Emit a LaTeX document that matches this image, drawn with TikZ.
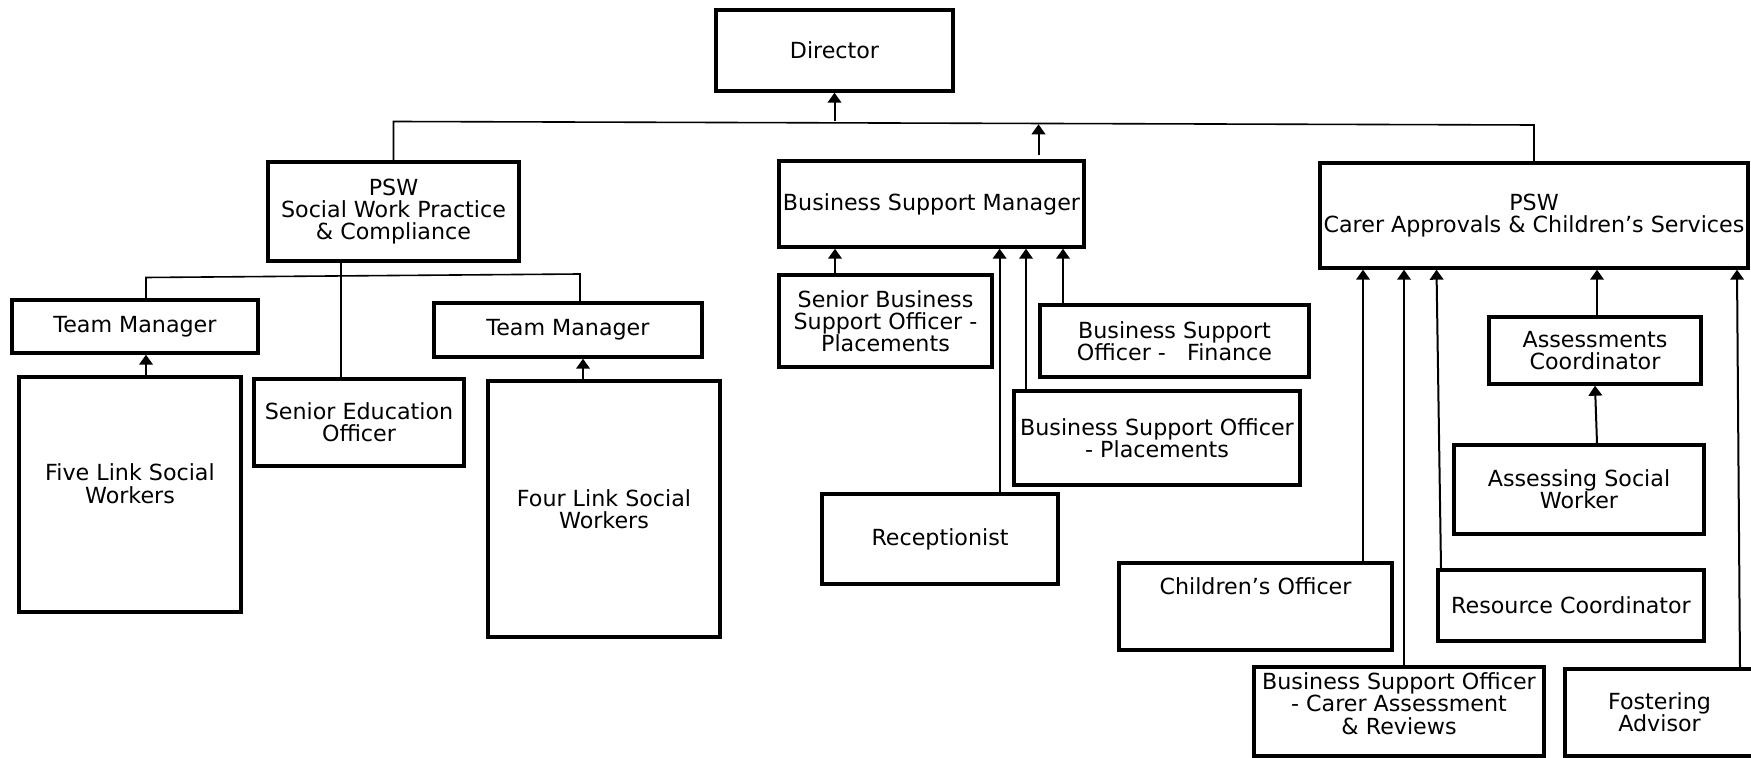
\documentclass[tikz,border=0pt]{standalone}
\usepackage{fontspec}
\setmainfont{DejaVu Sans}
\usetikzlibrary{arrows.meta}

\begin{document}
\begin{tikzpicture}[x=0.5pt, y=-0.5pt,
    post/.style={draw, line width=1.7pt, align=center, inner xsep=0pt, inner ysep=1pt,
        font=\fontsize{11.1pt}{11.1pt}\selectfont},
    link/.style={line width=0.8pt},
    uparr/.style={line width=1pt, -{Triangle[width=6.8pt,length=5pt]}}]
    \useasboundingbox (0,0) rectangle (1751,758);

    \node[post, minimum width=118.5pt, minimum height=40.5pt] (dir) at (834.5,50.5) {Director};

    \node[post, minimum width=125.5pt, minimum height=49.5pt] (pswa) at (393.5,211.5) {PSW\\Social Work Practice\\\& Compliance};
    \node[post, minimum width=152.5pt, minimum height=43pt] (bsm) at (931.5,204) {Business Support Manager};
    \node[post, minimum width=214pt, minimum height=52.5pt] (pswb) at (1534,215.5) {PSW\\Carer Approvals \& Children’s Services};

    \coordinate (busa) at (393.5,121.5);
    \coordinate (busb) at (1534,125);
    \draw[link] (pswa.north) -- (busa) -- (busb) -- (pswb.north);
    \draw[uparr] (dir.south |- busa) -- (dir.south);
    \draw[uparr] ([xshift=53.5pt,yshift=2pt]bsm.north) -- ([xshift=53.5pt,yshift=17.5pt]bsm.north);

    % left branch
    \node[post, minimum width=123pt, minimum height=26.5pt] (tma) at (135,326.5) {Team Manager};
    \node[post, minimum width=134pt, minimum height=27pt] (tmb) at (568,330) {Team Manager};
    \node[post, minimum width=111pt, minimum height=117.5pt, text depth=11pt] (five) at (130,494.5) {Five Link Social\\Workers};
    \node[post, minimum width=105pt, minimum height=43.5pt] (seo) at (359,422.5) {Senior Education\\Officer};
    \node[post, minimum width=116pt, minimum height=128pt] (four) at (604,509) {Four Link Social\\Workers};

    \coordinate (suba) at (146,277.5);
    \coordinate (subb) at (580,274);
    \draw[link] ([xshift=5.5pt]tma.north) -- (suba) -- (subb) -- ([xshift=6pt]tmb.north);
    \draw[link] ([xshift=-26.25pt]pswa.south) -- ([xshift=-26.25pt]pswa.south |- seo.north);
    \draw[uparr] ([xshift=8pt]five.north) -- ([xshift=8pt]five.north |- tma.south);
    \draw[uparr] ([xshift=-10.5pt]four.north) -- ([xshift=-10.5pt]four.north |- tmb.south);

    % business support
    \node[post, minimum width=106.5pt, minimum height=46pt] (sbso) at (885.5,321) {Senior Business\\Support Officer -\\Placements};
    \node[post, minimum width=134.5pt, minimum height=36pt] (bsof) at (1174.5,341) {Business Support\\Officer -~~~Finance};
    \node[post, minimum width=143pt, minimum height=47pt] (bsop) at (1157,438) {Business Support Officer\\- Placements};
    \node[post, minimum width=118pt, minimum height=45pt] (rec) at (940,539) {Receptionist};

    \draw[uparr] ([xshift=-25.25pt]sbso.north) -- ([xshift=-25.25pt]sbso.north |- bsm.south);
    \draw[uparr] ([xshift=29.8pt]rec.north) -- ([xshift=29.8pt]rec.north |- bsm.south);
    \draw[uparr] ([xshift=-65.5pt]bsop.north) -- ([xshift=-65.5pt]bsop.north |- bsm.south);
    \draw[uparr] ([xshift=-55.75pt]bsof.north) -- ([xshift=-55.75pt]bsof.north |- bsm.south);

    % carer approvals
    \node[post, minimum width=106pt, minimum height=33.5pt] (assc) at (1595,350.5) {Assessments\\Coordinator};
    \node[post, minimum width=125pt, minimum height=44.5pt] (asw) at (1579,489.5) {Assessing Social\\Worker};
    \node[post, minimum width=133pt, minimum height=35.5pt] (resc) at (1571,605.5) {Resource Coordinator};
    \node[post, minimum width=136.5pt, minimum height=43.5pt, text depth=20.5pt] (chof) at (1255.5,606.5) {Children’s Officer};
    \node[post, minimum width=145pt, minimum height=44.5pt, text depth=8pt] (bsoc) at (1399,711.5) {Business Support Officer\\- Carer Assessment\\\& Reviews};
    \node[post, minimum width=94.5pt, minimum height=43.5pt] (fost) at (1659.5,712.5) {Fostering\\Advisor};

    \draw[uparr] ([xshift=53.75pt]chof.north) -- ([xshift=53.75pt]chof.north |- pswb.south);
    \draw[uparr] ([xshift=2.5pt]bsoc.north) -- ([xshift=2.5pt]bsoc.north |- pswb.south);
    \draw[uparr] ([xshift=-65pt]resc.north) -- ([xshift=-48.75pt]pswb.south);
    \draw[uparr] ([xshift=1pt]assc.north) -- ([xshift=1pt]assc.north |- pswb.south);
    \draw[uparr] ([xshift=9pt]asw.north) -- (assc.south);
    \draw[uparr] ([xshift=40.25pt]fost.north) -- ([xshift=101.5pt]pswb.south);
\end{tikzpicture}
\end{document}
